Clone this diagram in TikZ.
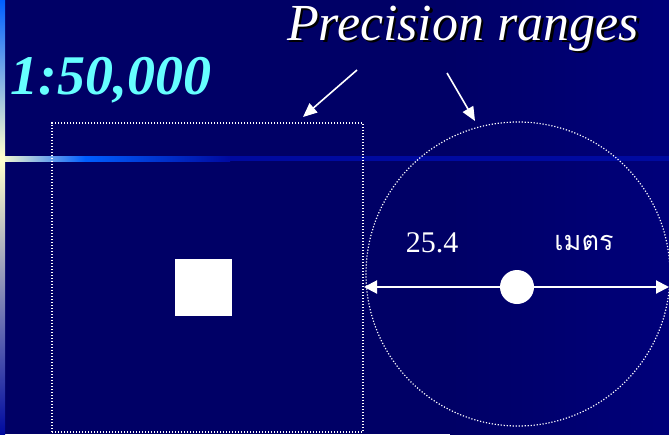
\documentclass[tikz,border=0pt]{standalone}
\usepackage{fontspec}
\setmainfont{Liberation Serif}
\newfontfamily\thaifont[Script=Thai]{Loma}
\usetikzlibrary{arrows.meta}
\definecolor{bgA}{RGB}{0,0,102}
\definecolor{bgB}{RGB}{0,0,122}
\definecolor{pale}{RGB}{255,255,205}
\definecolor{brightblue}{RGB}{0,95,255}
\definecolor{barblue}{RGB}{0,10,160}
\definecolor{cyantxt}{RGB}{102,255,255}
\newcommand{\shadowtext}[1]{\makebox[0pt][l]{\hspace{2.5pt}\raisebox{-2.5pt}{\color{black}#1}}#1}
\begin{document}
\begin{tikzpicture}[x=1pt,y=-1pt,
  dotline/.style={draw=white, line width=1.2pt, dash pattern=on 1.2pt off 1.8pt},
  pointer/.style={draw=white, line width=1.6pt, -{Triangle[length=14pt,width=12pt]}},
  twoway/.style={draw=white, line width=2pt, -{Triangle[length=13pt,width=13pt]}},
  txt/.style={inner sep=0pt, text=white}]
\useasboundingbox (0,0) rectangle (669,434);
% background
\fill[bgA] (0,0) rectangle (669,434);
\shade[left color=bgA, right color=bgB, shading angle=90] (450,0) rectangle (669,434);
% decorative bars
\shade[left color=pale, right color=brightblue] (0,156) rectangle (85,161);
\shade[left color=brightblue, right color=barblue] (85,156) rectangle (230,161);
\fill[barblue] (230,156) rectangle (669,161);
\shade[top color=brightblue, bottom color=pale] (0,0) rectangle (5,156);
\fill[pale] (0,156) rectangle (5,161);
\shade[top color=pale, bottom color=barblue] (0,161) rectangle (5,434);
% titles
\node[txt, text=cyantxt, font=\fontsize{56}{60}\selectfont\bfseries\itshape] (scale) at (111,80) {1:50,000};
\node[txt, font=\fontsize{52}{56}\selectfont\itshape] (title) at (463,30) {\shadowtext{Precision ranges}};
% shapes
\node[dotline, minimum width=311pt, minimum height=309pt, inner sep=0pt] (box) at (207.5,277.5) {};
\node[fill=white, minimum size=57pt, inner sep=0pt] (pixel) at (203.5,287) {};
\node[dotline, circle, minimum size=304pt, inner sep=0pt] (range) at (518,274) {};
\node[fill=white, circle, minimum size=34pt, inner sep=0pt] (dot) at (517,287) {};
% labels
\node[txt, font=\fontsize{30}{34}\selectfont] (num) at (432,243) {25.4};
\node[txt, font=\fontsize{27}{32}\selectfont\thaifont] (unit) at (584,243) {เมตร};
% pointers
\coordinate (p1s) at (357,70);
\coordinate (p1e) at (303,117);
\coordinate (p2s) at (447,73);
\coordinate (p2e) at (475,121);
\draw[pointer] (p1s) -- (p1e);
\draw[pointer] (p2s) -- (p2e);
% double arrow
\coordinate (aL) at (364,287);
\coordinate (aR) at (669,287);
\draw[twoway] (dot.center) -- (aL);
\draw[twoway] (dot.center) -- (aR);
\end{tikzpicture}
\end{document}
